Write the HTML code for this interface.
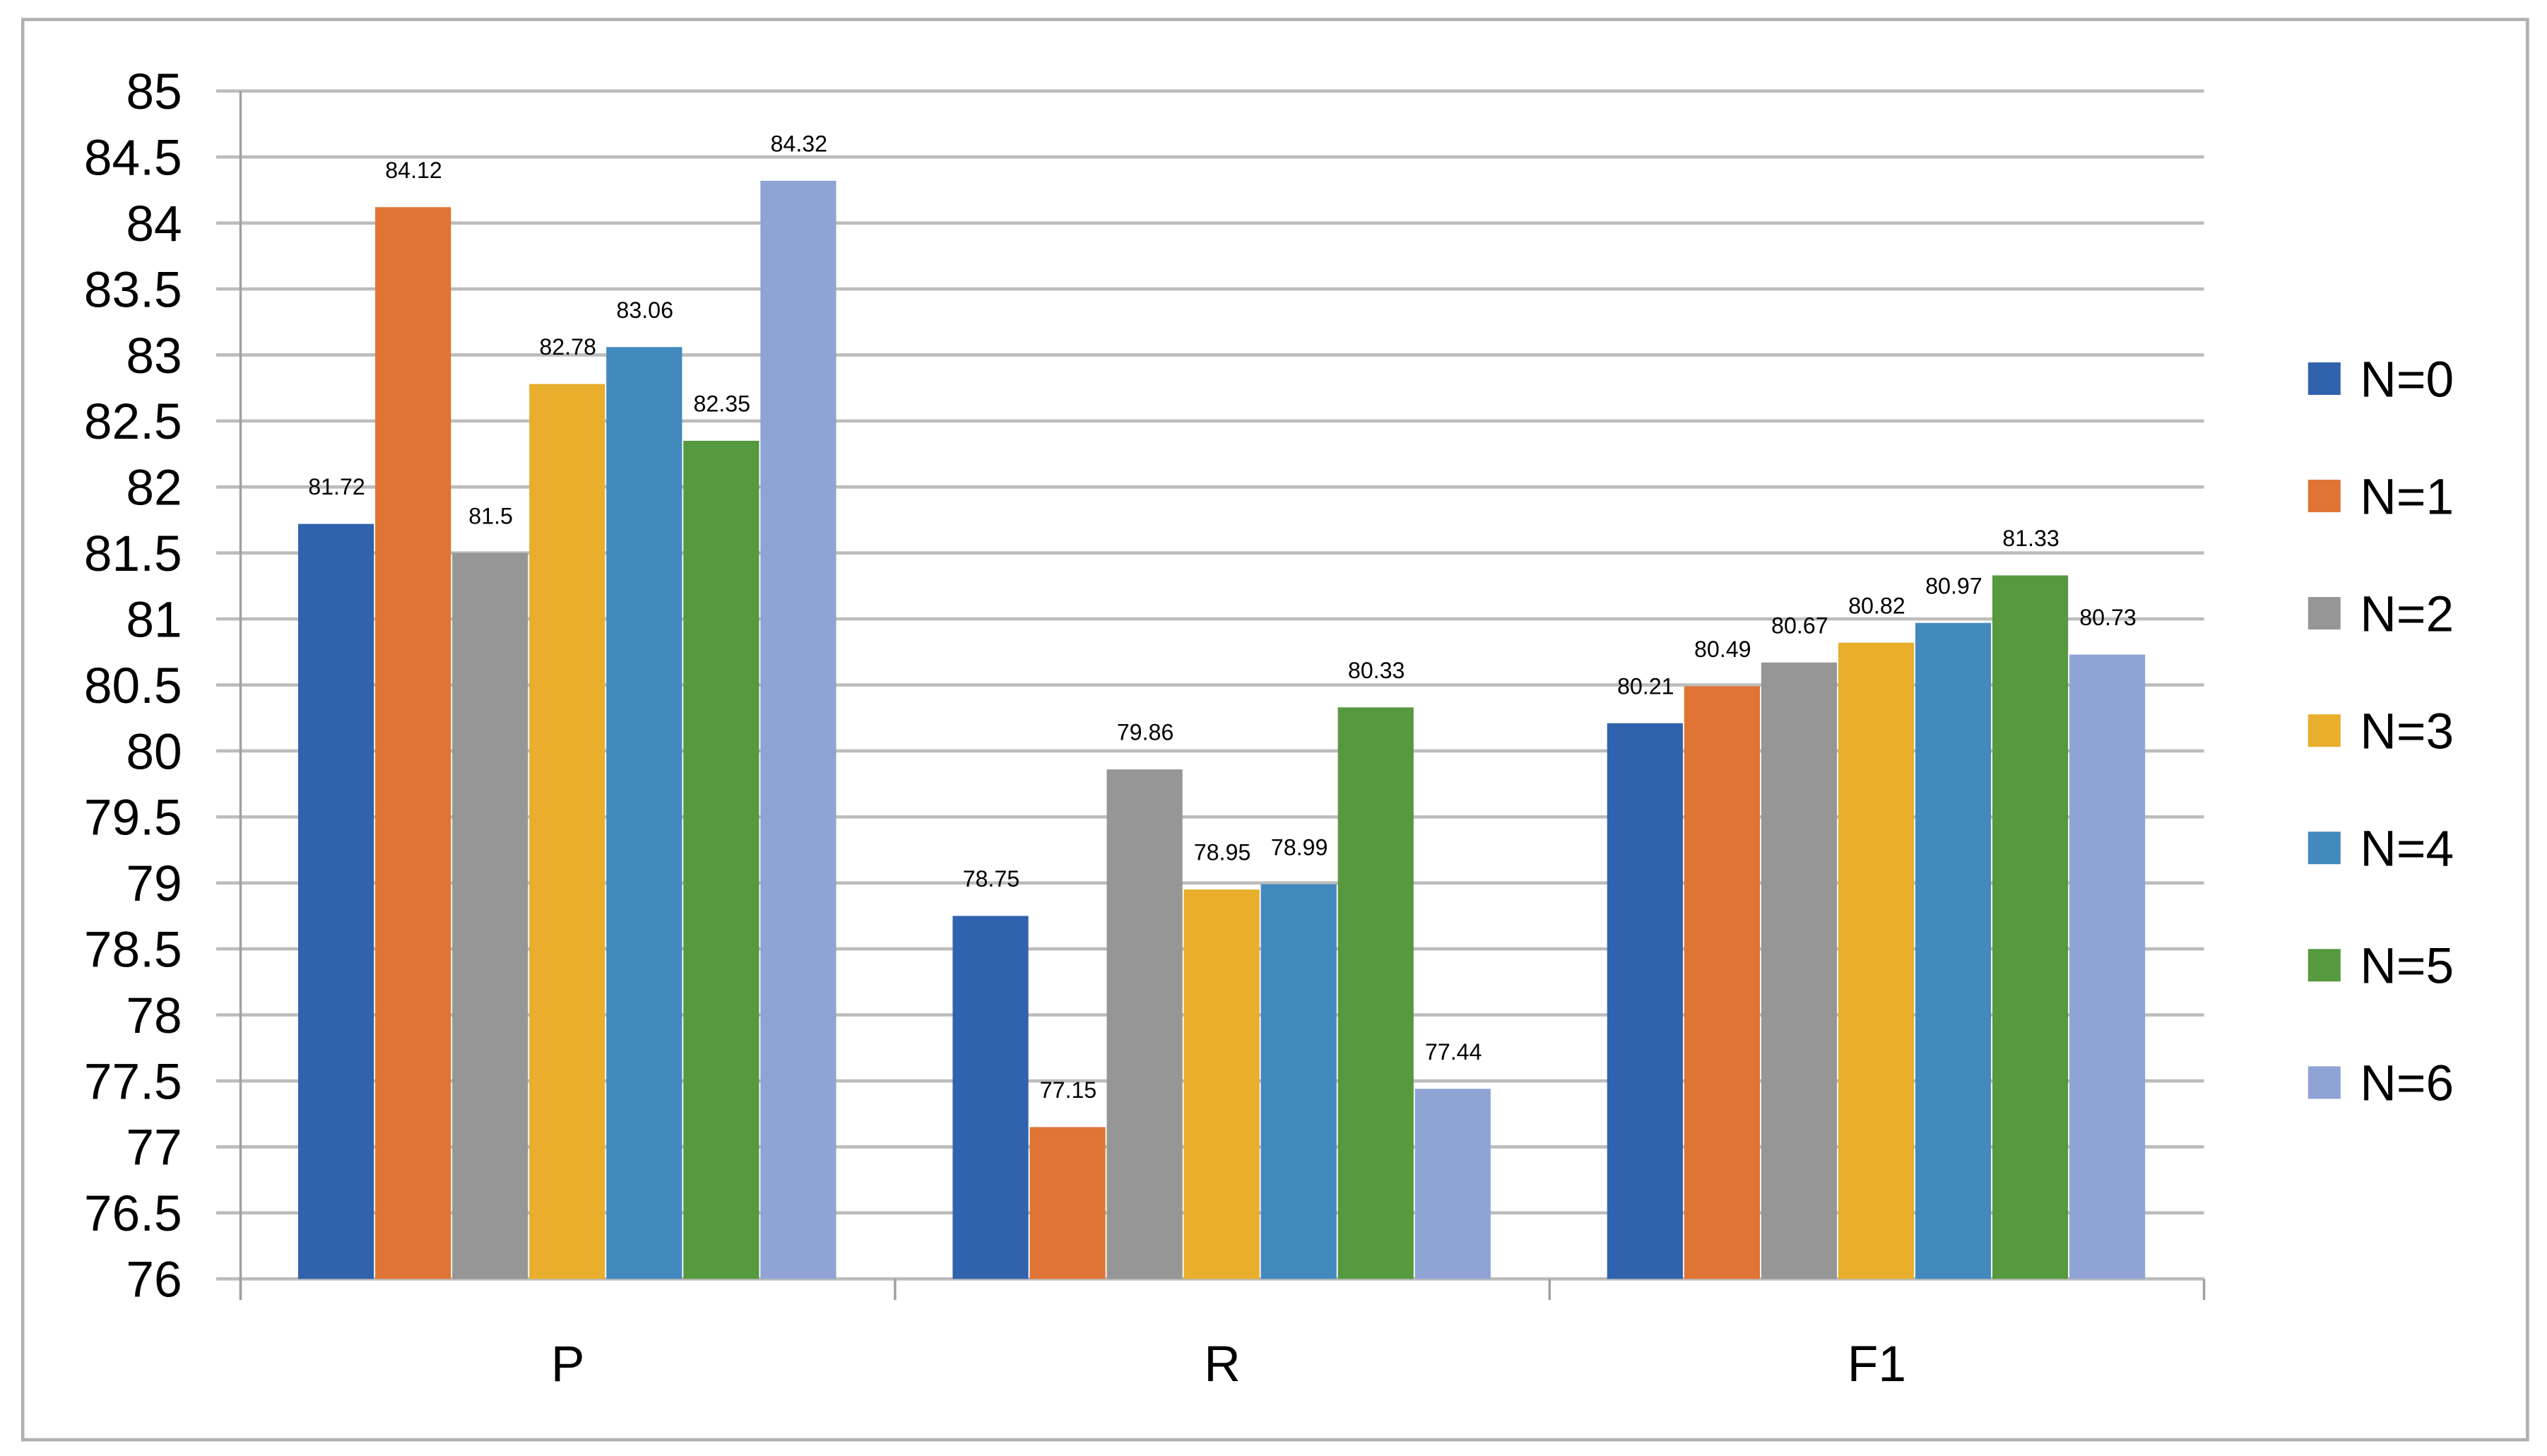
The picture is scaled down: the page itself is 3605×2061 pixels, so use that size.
<!DOCTYPE html>
<html><head><meta charset="utf-8"><style>
html,body{margin:0;padding:0;background:#fff;}
svg{display:block;}
text{font-family:"Liberation Sans Narrow","Liberation Sans",sans-serif;fill:#000;}
</style></head><body>
<svg id="chart" width="3605" height="2061" viewBox="0 0 1567 896" preserveAspectRatio="none" xmlns="http://www.w3.org/2000/svg">
<rect x="14" y="12" width="1541" height="874" fill="#fff" stroke="#b0b0b0" stroke-width="2"/>
<g id="grid"></g><g id="bars"></g><g id="labels"></g><g id="axes"></g><g id="legend"></g>
</svg>
<script>
const categories = ["P", "R", "F1"];
const seriesNames = ["N=0","N=1","N=2","N=3","N=4","N=5","N=6"];
const seriesP = [81.72, 84.12, 81.5, 82.78, 83.06, 82.35, 84.32];
const seriesR = [78.75, 77.15, 79.86, 78.95, 78.99, 80.33, 77.44];
const seriesF1 = [80.21, 80.49, 80.67, 80.82, 80.97, 81.33, 80.73];
const yTicks = [76,76.5,77,77.5,78,78.5,79,79.5,80,80.5,81,81.5,82,82.5,83,83.5,84,84.5,85];
const colors = ["#3062AD","#E07434","#969696","#E8AE2C","#4289BE","#56993F","#8FA4D4"];
const values = [seriesP, seriesR, seriesF1];
const NS = "http://www.w3.org/2000/svg";
const yMin=76, yMax=85, yTop=56, yBot=787;
function yScale(v){return yBot-(v-yMin)/(yMax-yMin)*(yBot-yTop);}
const axL=148, axR=1356, grpW=(axR-axL)/categories.length;
function grpX(i){return axL+i*grpW;}
const barW=47.4, groupPad=(grpW-barW*7)/2;
function mk(tag,attrs,parent){const e=document.createElementNS(NS,tag);for(const k in attrs)e.setAttribute(k,attrs[k]);document.getElementById(parent).appendChild(e);return e;}
yTicks.forEach(t=>{
  const l=mk("line",{x1:133,x2:axR,y1:yScale(t),y2:yScale(t),stroke:"#bcbcbc","stroke-width":2},"grid");
  
  
  const tx=mk("text",{x:112,y:yScale(t)+11,"text-anchor":"end","font-size":31},"axes");
  tx.textContent=String(t);
  
  
});
const ya=mk("line",{x1:axL,x2:axL,y1:yTop,y2:800,stroke:"#a0a0a0","stroke-width":1.5},"axes");


for(let i=0;i<=categories.length;i++){
  const tk=mk("line",{x1:grpX(i),x2:grpX(i),y1:yBot,y2:800,stroke:"#a0a0a0","stroke-width":1.5},"axes");
  
  
}
categories.forEach((c,i)=>{
  const tx=mk("text",{x:grpX(i)+grpW/2,y:850,"text-anchor":"middle","font-size":31},"axes");
  tx.textContent=c;
  
  
  values[i].forEach((v,j)=>{
    const x=grpX(i)+groupPad+j*barW;
    const r=mk("rect",{x:x,y:yScale(v),width:barW-0.8,height:yBot-yScale(v),fill:colors[j]},"bars");
    
    
    const lb=mk("text",{x:x+barW/2,y:yScale(v)-18,"text-anchor":"middle","font-size":14},"labels");
    lb.textContent=String(v);
    
    
  });
});
seriesNames.forEach((n,j)=>{
  const cy=233+j*72.2;
  const sq=mk("rect",{x:1420,y:cy-10,width:20,height:20,fill:colors[j]},"legend");
  
  
  const t=mk("text",{x:1452,y:cy+11,"font-size":31},"legend");
  t.textContent=n;
  
  
});
</script>
</body></html>
